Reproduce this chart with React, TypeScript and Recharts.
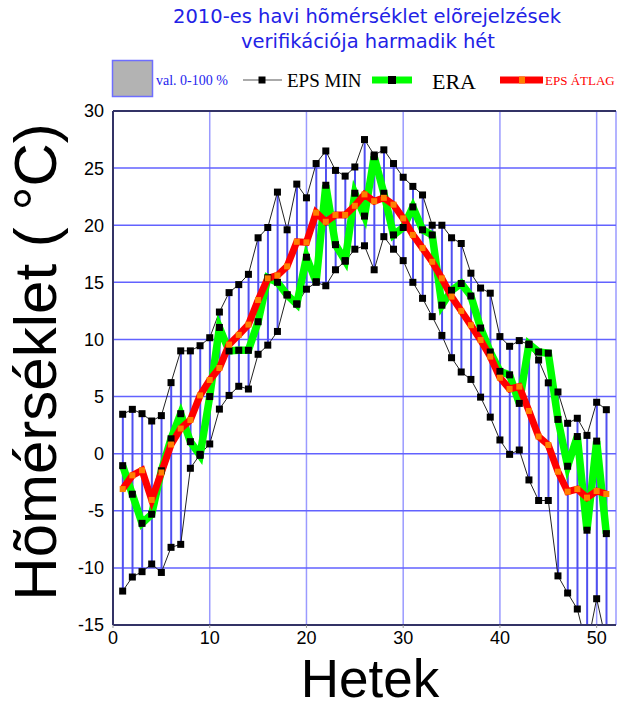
import React from 'react';
import { ComposedChart, Bar, Line, XAxis, YAxis, CartesianGrid, ReferenceLine } from 'recharts';

const weeks = [1, 2, 3, 4, 5, 6, 7, 8, 9, 10, 11, 12, 13, 14, 15, 16, 17, 18, 19, 20, 21, 22, 23, 24, 25, 26, 27, 28, 29, 30, 31, 32, 33, 34, 35, 36, 37, 38, 39, 40, 41, 42, 43, 44, 45, 46, 47, 48, 49, 50, 51];

const epsMax = [3.45, 3.88, 3.5, 2.86, 3.33, 6.22, 9.0, 9.0, 9.45, 10.15, 12.4, 14.1, 14.8, 15.7, 18.9, 19.8, 22.9, 19.6, 23.6, 22.4, 25.4, 26.5, 24.8, 24.3, 25.1, 27.5, 26.15, 26.6, 25.4, 24.2, 23.4, 22.65, 20.0, 20.0, 18.9, 18.4, 15.8, 14.5, 14.05, 10.25, 9.4, 9.9, 9.55, 8.2, 6.2, 5.4, 2.66, 3.1, 1.6, 4.5, 3.85];

const epsMin = [-12.03, -10.8, -10.33, -9.66, -10.4, -8.2, -7.94, -1.28, -0.06, 0.85, 3.9, 5.1, 5.9, 5.66, 8.7, 9.5, 10.7, 13.9, 13.1, 14.4, 15.0, 14.7, 16.1, 16.85, 17.9, 18.2, 16.1, 19.0, 17.9, 16.9, 15.0, 13.6, 12.0, 10.35, 8.4, 7.15, 6.5, 4.95, 3.2, 1.2, -0.06, 0.32, -2.3, -4.1, -4.1, -10.7, -12.2, -13.6, -17, -12.7, -16.5];

const era = [-1.05, -3.55, -6.1, -5.3, -1.5, 1.3, 3.5, 1.05, -0.15, 5.0, 11.05, 9.0, 9.05, 9.05, 11.55, 15.4, 15.0, 13.9, 13.1, 17.2, 15.05, 23.5, 18.3, 16.9, 22.8, 20.8, 26.0, 22.8, 19.15, 19.8, 21.6, 19.6, 19.15, 13.0, 14.3, 14.9, 13.8, 11.0, 8.9, 7.2, 6.9, 4.4, 9.6, 8.9, 8.8, 3.0, -1.1, 1.5, -6.7, 1.1, -7.0];

const epsMean = [-3.1, -1.9, -1.45, -4.05, -1.65, 0.8, 2.2, 2.95, 5.1, 6.45, 7.5, 9.55, 10.4, 11.3, 13.45, 15.35, 15.6, 16.4, 18.55, 18.5, 21.1, 20.3, 20.9, 20.9, 21.7, 22.7, 22.1, 22.4, 21.8, 20.6, 19.15, 18.0, 16.8, 15.35, 13.75, 12.5, 11.25, 9.95, 8.5, 6.65, 5.66, 5.87, 3.74, 1.5, 0.76, -1.58, -3.33, -3.1, -3.85, -3.27, -3.53];

const xTicks = [0, 10, 20, 30, 40, 50];
const yTicks = [-15, -10, -5, 0, 5, 10, 15, 20, 25, 30];

const data = weeks.map((w, i) => ({
  week: w,
  range: [epsMin[i], epsMax[i]],
  max: epsMax[i],
  min: epsMin[i],
  era: era[i],
  mean: epsMean[i],
}));

const squareDot = (size: number, fill: string) => (props: any) => {
  const { cx, cy, index } = props;
  if (cx == null || cy == null || isNaN(cx) || isNaN(cy)) return <g key={index} />;
  return <rect key={index} x={cx - size / 2} y={cy - size / 2} width={size} height={size} fill={fill} />;
};

const tickStyle = { fontFamily: 'Liberation Sans, Arial, sans-serif', fontSize: 18, fill: '#000' };

export default function App() {
  return (
    <div style={{ position: 'absolute', left: 0, top: 0, width: 623, height: 709, background: '#fff' }}>
      <ComposedChart
        width={623}
        height={709}
        data={data}
        margin={{ top: 111, right: 7, left: 53, bottom: 54 }}
      >
        <CartesianGrid horizontal={false} vertical={true} stroke="#9a9aff" strokeWidth={1.5} />
        <CartesianGrid horizontal={true} vertical={false} stroke="#6262ff" strokeWidth={1.5} />
        <XAxis
          dataKey="week"
          type="number"
          domain={[0, 52]}
          ticks={xTicks}
          allowDataOverflow
          height={30}
          tick={tickStyle}
          tickSize={3}
          tickMargin={3}
          axisLine={{ stroke: '#333366', strokeWidth: 2 }}
          tickLine={{ stroke: '#999' }}
        />
        <YAxis
          type="number"
          domain={[-15, 30]}
          ticks={yTicks}
          allowDataOverflow
          width={60}
          tick={tickStyle}
          tickSize={3}
          tickMargin={6}
          axisLine={{ stroke: '#333366', strokeWidth: 2 }}
          tickLine={false}
        />
        <ReferenceLine y={30} stroke="#333366" strokeWidth={2} />
        <Bar dataKey="range" fill="#4f4ff0" barSize={2} isAnimationActive={false} />
        <Line
          dataKey="min"
          stroke="#222"
          strokeWidth={1}
          dot={squareDot(7, '#000')}
          activeDot={false}
          isAnimationActive={false}
        />
        <Line
          dataKey="max"
          stroke="#222"
          strokeWidth={1}
          dot={squareDot(7, '#000')}
          activeDot={false}
          isAnimationActive={false}
        />
        <Line
          dataKey="era"
          stroke="#00ff00"
          strokeWidth={7.5}
          strokeLinejoin="miter"
          dot={squareDot(7, '#000')}
          activeDot={false}
          isAnimationActive={false}
        />
        <Line
          dataKey="mean"
          stroke="#ff0000"
          strokeWidth={7}
          strokeLinejoin="miter"
          dot={squareDot(6, '#ff8000')}
          activeDot={false}
          isAnimationActive={false}
        />
      </ComposedChart>
      <svg
        width={623}
        height={709}
        style={{ position: 'absolute', left: 0, top: 0, pointerEvents: 'none' }}
      >
        <g fontFamily="DejaVu Sans, Verdana, sans-serif" fill="#2222e6" fontSize={19.5} textAnchor="middle">
          <text x={367} y={23}>2010-es havi hõmérséklet elõrejelzések</text>
          <text x={368} y={48}>verifikációja harmadik hét</text>
        </g>
        <rect x={112.5} y={60.5} width={40} height={36} fill="#b3b3b3" stroke="#6e6eff" strokeWidth={1.5} />
        <text x={156} y={85} fontFamily="Liberation Serif, serif" fontSize={14} fill="#2424ee">val. 0-100 %</text>
        <line x1={243} y1={80} x2={282} y2={80} stroke="#aaaaaa" strokeWidth={2} />
        <rect x={258.5} y={76.5} width={7} height={7} fill="#000" />
        <text x={287} y={87} fontFamily="Liberation Serif, serif" fontSize={19} fill="#000">EPS MIN</text>
        <line x1={372} y1={80} x2={412} y2={80} stroke="#00ff00" strokeWidth={7} />
        <rect x={388} y={76} width={8} height={8} fill="#000" />
        <text x={432} y={89} fontFamily="Liberation Serif, serif" fontSize={22} fill="#000">ERA</text>
        <line x1={500} y1={80} x2={543} y2={80} stroke="#ff0000" strokeWidth={7} />
        <rect x={519} y={76.5} width={6} height={7} fill="#ff8000" />
        <text x={545} y={85} fontFamily="Liberation Serif, serif" fontSize={13} fill="#ff0000">EPS ÁTLAG</text>
        <text
          x={35}
          y={383}
          transform="rotate(-90, 35, 362)"
          textAnchor="middle"
          fontFamily="Liberation Sans, Arial, sans-serif"
          fontSize={60}
          fill="#000"
        >
          Hõmérséklet ( °C)
        </text>
        <text x={370} y={697} textAnchor="middle" fontFamily="Liberation Sans, Arial, sans-serif" fontSize={53} fill="#000">
          Hetek
        </text>
      </svg>
    </div>
  );
}
